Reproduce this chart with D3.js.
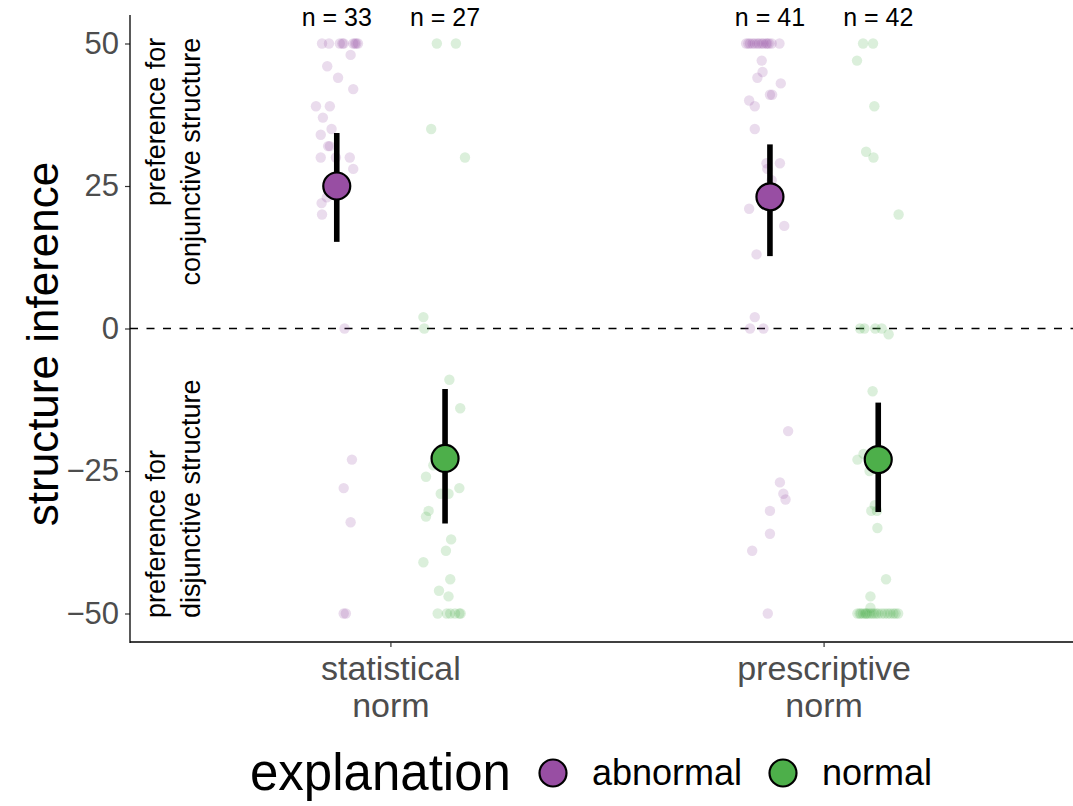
<!DOCTYPE html>
<html lang="en">
<head>
<meta charset="UTF-8">
<title>structure inference</title>
<script src="https://cdn.jsdelivr.net/npm/d3@7"></script>
<style>
  body { margin: 0; background: #fff; }
  text { font-family: "Liberation Sans", Arial, sans-serif; }
</style>
</head>
<body>
<svg id="main" width="1073" height="806"></svg>
<script>
// categories and groups
const conditions = [["statistical", "norm"], ["prescriptive", "norm"]];
const explanations = ["abnormal", "normal"];
const colors = ["#984EA3", "#4DAF4A"];
const yTicks = [-50, -25, 0, 25, 50];

// per group: stat-abnormal, stat-normal, presc-abnormal, presc-normal
const groupN = [33, 27, 41, 42];
const means = [25.0, -22.8, 23.1, -23.0];
const ciLow = [15.2, -34.2, 12.7, -32.2];
const ciHigh = [34.3, -10.6, 32.3, -13.0];

// individual responses: [x jitter, value]
const statAbnormal = [
  [-0.034, 50], [-0.018, 50], [0.007, 50], [0.013, 50], [0.016, 50], [0.038, 50], [0.042, 50], [0.045, 50], [0.049, 50],
  [0.032, 48], [-0.022, 46], [0.003, 44], [0.038, 42], [-0.048, 39], [-0.016, 39], [-0.032, 37], [-0.012, 35],
  [-0.037, 34], [-0.020, 32], [-0.016, 32], [-0.037, 30], [-0.002, 30], [0.030, 30], [0.038, 28], [-0.023, 23],
  [-0.035, 22], [-0.034, 20], [0.018, 0], [0.035, -23], [0.016, -28], [0.032, -34], [0.016, -50], [0.021, -50]
];
const statNormal = [
  [-0.019, 50], [0.025, 50], [-0.032, 35], [0.046, 30], [-0.050, 2], [-0.048, 0], [0.010, -9], [0.035, -14],
  [-0.027, -24], [-0.044, -26], [0.033, -28], [-0.010, -29], [0.008, -29], [-0.038, -32], [-0.044, -33],
  [0.014, -37], [0.002, -39], [-0.050, -41], [0.012, -44], [-0.014, -46], [0.008, -47],
  [-0.017, -50], [0.004, -50], [0.012, -50], [0.023, -50], [0.033, -50], [0.036, -50]
];
const prescAbnormal = [
  [-0.055, 50], [-0.050, 50], [-0.046, 50], [-0.040, 50], [-0.035, 50], [-0.029, 50], [-0.025, 50], [-0.019, 50],
  [-0.015, 50], [-0.009, 50], [-0.006, 50], [-0.002, 50], [0.004, 50], [0.022, 50],
  [-0.019, 47], [-0.017, 45], [-0.029, 44], [0.025, 43], [0.000, 41], [0.005, 41], [-0.048, 40], [-0.035, 39],
  [-0.035, 35], [-0.008, 29], [0.023, 29], [-0.006, 28], [0.004, 26], [-0.048, 21], [0.033, 18], [-0.031, 13],
  [-0.035, 2], [-0.046, 0], [-0.015, 0], [0.042, -18], [0.023, -27], [0.031, -29], [0.036, -30], [0.000, -32],
  [0.000, -36], [-0.041, -39], [-0.005, -50]
];
const prescNormal = [
  [-0.035, 50], [-0.012, 50], [-0.049, 47], [-0.009, 39], [-0.028, 31], [-0.011, 30], [0.047, 20],
  [-0.042, 0], [-0.032, 0], [-0.007, 0], [0.008, 0], [0.024, -1], [-0.013, -11], [-0.034, -22], [-0.048, -23],
  [-0.020, -25], [-0.008, -31], [-0.016, -32], [-0.003, -32], [-0.002, -35], [0.018, -44], [-0.018, -47], [-0.018, -49],
  [-0.048, -50], [-0.043, -50], [-0.040, -50], [-0.035, -50], [-0.030, -50], [-0.028, -50], [-0.025, -50],
  [-0.020, -50], [-0.015, -50], [-0.010, -50], [-0.005, -50], [0.000, -50], [0.008, -50], [0.015, -50],
  [0.022, -50], [0.028, -50], [0.035, -50], [0.040, -50], [0.046, -50]
];
const groupPoints = [statAbnormal, statNormal, prescAbnormal, prescNormal];

const W = 1073, H = 806;
const panelLeft = 130, panelTop = 15, panelBottom = 642;
const svg = d3.select("#main");

const xScale = d3.scaleLinear().domain([0.4, 2.6]).range([131, 1084]);
const yScale = d3.scaleLinear().domain([-55, 55]).range([panelBottom, panelTop]);
const dodge = 0.125;

// group index -> x position
const groupX = i => (Math.floor(i / 2) + 1) + (i % 2 === 0 ? -dodge : dodge);

// zero line
svg.append("line")
  .attr("x1", panelLeft).attr("x2", W)
  .attr("y1", yScale(0)).attr("y2", yScale(0))
  .attr("stroke", "black").attr("stroke-width", 1.6)
  .attr("stroke-dasharray", "8,8.5");

// jittered points
groupPoints.forEach((pts, i) => {
  svg.append("g").selectAll("circle")
    .data(pts).join("circle")
    .attr("cx", d => xScale(groupX(i) + d[0]))
    .attr("cy", d => yScale(d[1]))
    .attr("r", 5.2)
    .attr("fill", colors[i % 2])
    .attr("fill-opacity", 0.2);
});

// error bars and means
const summary = means.map((m, i) => ({ i, m, lo: ciLow[i], hi: ciHigh[i] }));
svg.append("g").selectAll("line")
  .data(summary).join("line")
  .attr("x1", d => xScale(groupX(d.i))).attr("x2", d => xScale(groupX(d.i)))
  .attr("y1", d => yScale(d.lo)).attr("y2", d => yScale(d.hi))
  .attr("stroke", "black").attr("stroke-width", 5.6);
svg.append("g").selectAll("circle")
  .data(summary).join("circle")
  .attr("cx", d => xScale(groupX(d.i)))
  .attr("cy", d => yScale(d.m))
  .attr("r", 13.5)
  .attr("fill", d => colors[d.i % 2])
  .attr("stroke", "black").attr("stroke-width", 2.2);

// n labels
svg.append("g").selectAll("text")
  .data(groupN).join("text")
  .attr("x", (d, i) => xScale(groupX(i)))
  .attr("y", 26)
  .attr("text-anchor", "middle")
  .attr("font-size", 25)
  .text(d => "n = " + d);

// annotations
const annot = [
  { lines: ["preference for", "conjunctive structure"], y: 51, anchor: "end" },
  { lines: ["preference for", "disjunctive structure"], y: -50.8, anchor: "start" }
];
annot.forEach(a => {
  const g = svg.append("g")
    .attr("transform", `translate(${xScale(0.5)},${yScale(a.y)}) rotate(-90)`);
  a.lines.forEach((l, j) => {
    g.append("text")
      .attr("x", 0).attr("y", j * 35 - 9)
      .attr("text-anchor", a.anchor)
      .attr("font-size", 27)
      .text(l);
  });
});

// y axis
const yAxis = svg.append("g")
  .attr("transform", `translate(${panelLeft},0)`)
  .call(d3.axisLeft(yScale).tickValues(yTicks).tickSize(5).tickPadding(6)
    .tickFormat(d => d < 0 ? "\u2212" + Math.abs(d) : d));
yAxis.select(".domain").remove();
yAxis.selectAll(".tick line").attr("stroke", "#333").attr("stroke-width", 1.2);
yAxis.selectAll(".tick text").attr("font-size", 31).attr("fill", "#4d4d4d")
  .attr("font-family", "Liberation Sans, Arial, sans-serif");
svg.append("line").attr("x1", panelLeft).attr("x2", panelLeft).attr("y1", panelTop).attr("y2", panelBottom + 1)
  .attr("stroke", "black").attr("stroke-width", 1.3);

// x axis
svg.append("line").attr("x1", panelLeft).attr("x2", W).attr("y1", panelBottom).attr("y2", panelBottom)
  .attr("stroke", "black").attr("stroke-width", 1.3);
const xt = svg.append("g").selectAll("g")
  .data(conditions).join("g")
  .attr("transform", (d, i) => `translate(${xScale(i + 1)},${panelBottom})`);
xt.append("line").attr("y1", 0).attr("y2", 5).attr("stroke", "#333").attr("stroke-width", 1.2);
xt.each(function(d) {
  d.forEach((l, j) => {
    d3.select(this).append("text")
      .attr("y", 38 + j * 37)
      .attr("text-anchor", "middle")
      .attr("font-size", 34)
      .attr("fill", "#4d4d4d")
      .text(l);
  });
});

// y title
svg.append("text")
  .attr("transform", `translate(58,344) rotate(-90)`)
  .attr("text-anchor", "middle")
  .attr("font-size", 44)
  .text("structure inference");

// legend
const lg = svg.append("g");
lg.append("text").attr("x", 250).attr("y", 790).attr("font-size", 51).text("explanation");
const legendX = [553, 783];
explanations.forEach((e, i) => {
  lg.append("circle").attr("cx", legendX[i]).attr("cy", 773).attr("r", 13.5)
    .attr("fill", colors[i]).attr("stroke", "black").attr("stroke-width", 2.2);
  lg.append("text").attr("x", legendX[i] + 39).attr("y", 785).attr("font-size", 36).text(e);
});
</script>
</body>
</html>
